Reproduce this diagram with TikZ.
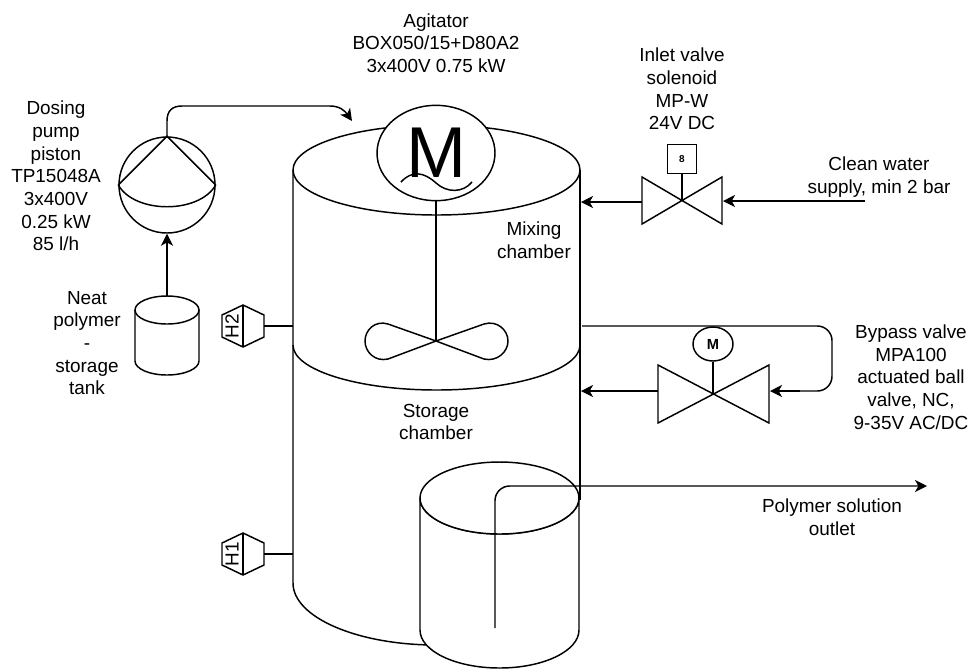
\documentclass[tikz,border=0pt]{standalone}
\usepackage{fontspec}
\setmainfont{Liberation Sans}
\usetikzlibrary{arrows.meta,positioning,shapes.geometric}
\tikzset{
 vessel/.style={line width=1.1pt,draw=black},
 tankbody/.style={line width=1.1pt,draw=black,fill=white},
 note/.style={align=center,inner sep=0pt,font=\fontsize{14.2}{17}\selectfont},
 motor/.style={ellipse,draw=black,fill=white,line width=1.1pt,inner sep=0pt},
 solbox/.style={rectangle,draw=black,fill=white,line width=1.1pt,minimum size=22pt,inner sep=0pt,font=\bfseries\fontsize{7.5}{8}\selectfont},
 arrow/.style={-{Stealth[length=9pt,width=9pt,inset=2.5pt]},line width=1.1pt,draw=black}}
\begin{document}
\begin{tikzpicture}[x=0.75pt,y=-0.75pt]
\useasboundingbox (0,0) rectangle (974,669);
% vessel, two chambers
\draw[vessel] (436.5,170) ellipse [x radius=143.5,y radius=45];
\draw[vessel] (293,170) -- (293,583) arc [start angle=180,end angle=90,x radius=143,y radius=62];
\draw[vessel] (580,170) -- (580,500);
\draw[vessel] (293,345) arc [start angle=180,end angle=0,x radius=143.5,y radius=45];
% outlet tank
\draw[tankbody] (420,498) -- (420,630) arc [start angle=180,end angle=0,x radius=79.5,y radius=38] -- (579,498) arc [start angle=0,end angle=180,x radius=79.5,y radius=36] -- cycle;
\draw[tankbody] (499.5,498) ellipse [x radius=79.5,y radius=36];
% agitator
\node[motor,minimum width=88.5pt,minimum height=71.5pt,font=\fontsize{54}{54}\selectfont] (agit) at (436,153) {M};
\draw[vessel] (401,182) .. controls (412,170) and (424,172) .. (436,183) .. controls (447,193) and (463,193) .. (472,182);
\coordinate (hub) at (436,341);
\draw[vessel] (agit.south) -- (hub);
\draw[vessel] (hub) -- (388,324) .. controls (375,320) and (365,330) .. (365,341) .. controls (365,352) and (375,362) .. (388,359) -- (hub);
\draw[vessel] (hub) -- (484,324) .. controls (497,320) and (508,330) .. (508,341) .. controls (508,352) and (497,362) .. (484,359) -- (hub);
% dosing pump and neat polymer tank
\node[circle,draw=black,line width=1.1pt,minimum size=72pt,inner sep=0pt] (pump) at (167,185) {};
\draw[vessel] (pump.west) -- (pump.north) -- (pump.east);
\draw[vessel] (pump.west) .. controls (135,214) and (199,214) .. (pump.east);
\draw[tankbody] (135,310) -- (135,361) arc [start angle=180,end angle=0,x radius=32,y radius=14] -- (199,310);
\draw[tankbody] (167,310) ellipse [x radius=32,y radius=14];
\coordinate (polytop) at (167,296);
\coordinate (feedup) at (167,121);
\coordinate (feedtop) at (182,106);
\coordinate (feedbend) at (330,106);
\coordinate (feedend) at (352,121);
\draw[arrow] (polytop) -- (pump.south);
\draw[arrow] (pump.north) -- (feedup) .. controls (167,111) and (172,106) .. (feedtop) -- (feedbend) .. controls (340,106) and (345,111) .. (feedend);
% level sensors
\foreach \name/\ypos/\txt in {htwo/326/H2,hone/554/H1}{
 \draw[vessel] (222,\ypos-11) -- (243,\ypos-21) -- (264,\ypos-11) -- (264,\ypos+11) -- (243,\ypos+21) -- (222,\ypos+11) -- cycle;
 \draw[vessel] (243,\ypos-21) -- (243,\ypos+21);
 \node[note,rotate=90] (\name) at (232,\ypos) {\txt};
 \coordinate (\name port) at (264,\ypos);
 \coordinate (\name wall) at (293,\ypos);
 \draw[vessel] (\name port) -- (\name wall);
}
% inlet valve
\coordinate (inlet) at (682,201);
\draw[vessel] (642,177) -- (722,224) -- (722,177) -- (642,224) -- cycle;
\node[solbox,above=20pt of inlet] (sol) {8};
\draw[vessel] (sol.south) -- (inlet);
\coordinate (inletleft) at (642,202);
\coordinate (inletwall) at (581,202);
\coordinate (inletright) at (723,201);
\coordinate (supply) at (865,201);
\draw[arrow] (inletleft) -- (inletwall);
\draw[arrow] (supply) -- (inletright);
% bypass valve
\coordinate (bypass) at (713,394);
\draw[vessel] (658,365) -- (769,423) -- (769,365) -- (658,423) -- cycle;
\node[motor,minimum width=30pt,minimum height=25.5pt,font=\bfseries\fontsize{11}{12}\selectfont] (act) at (713,344) {M};
\draw[vessel] (act.south) -- (bypass);
\coordinate (bystart) at (582,326);
\coordinate (bytop) at (832,326);
\coordinate (bybot) at (832,391);
\coordinate (bymid) at (800,391);
\coordinate (byright) at (770,391);
\coordinate (byleft) at (658,391);
\coordinate (bywall) at (581,391);
\draw[vessel,rounded corners=11pt] (bystart) -- (bytop) -- (bybot) -- (bymid);
\draw[arrow] (bymid) -- (byright);
\draw[arrow] (byleft) -- (bywall);
% outlet
\coordinate (dip) at (495,628);
\coordinate (outlet) at (927,486);
\draw[arrow,rounded corners=11pt] (dip) |- (outlet);
% labels
\node[note] (agitlbl) at (436,43) {Agitator\\BOX050/15+D80A2\\3x400V 0.75 kW};
\node[note] (inletlbl) at (682,89) {Inlet valve\\solenoid\\MP-W\\24V DC};
\node[note] (cleanlbl) at (879,177) {Clean water\\supply, min 2 bar};
\node[note] (pumplbl) at (56,176) {Dosing\\pump\\piston\\TP15048A\\3x400V\\0.25 kW\\85 l/h};
\node[note] (neatlbl) at (87,343) {Neat\\polymer\\-\\storage\\tank};
\node[note] (mixlbl) at (534,240) {Mixing\\chamber};
\node[note] (storelbl) at (436,422) {Storage\\chamber};
\node[note] (bylbl) at (911,377) {Bypass valve\\MPA100\\actuated ball\\valve, NC,\\9-35V AC/DC};
\node[note] (outlbl) at (832,517) {Polymer solution\\outlet};
\end{tikzpicture}
\end{document}
